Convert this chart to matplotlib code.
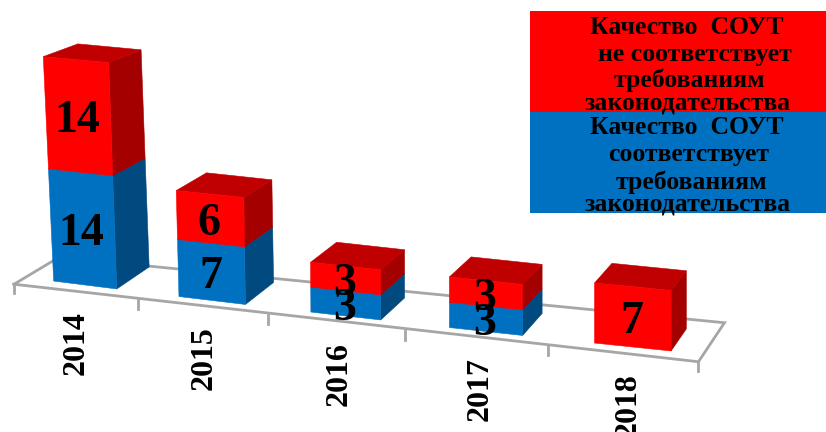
import matplotlib
matplotlib.use("Agg")
import matplotlib.pyplot as plt

years = ["2014", "2015", "2016", "2017", "2018"]
compliant = [14, 7, 3, 3, 0]
non_compliant = [14, 6, 3, 3, 7]
legend_red = ["Качество  СОУТ", "не соответствует", "требованиям", "законодательства"]
legend_blue = ["Качество  СОУТ", "соответствует", "требованиям", "законодательства"]

FONT = "Liberation Serif"
BAR_HALF = 0.255
RED = ("#ff0000", "#a50000", "#c00000")
BLUE = ("#0070c0", "#004a80", "#00609f")
GRID = "#a6a6a6"


def project(u, v=0.0, d=0.0):
    """Oblique projection: category position u, value v, depth d -> pixel."""
    lean = min(0.0, -0.33 + 0.16 * u)
    x = 85 + 123.7 * u + 3.3 * u * u + lean * v
    y = 285 + 15.5 * u - (8.05 + 0.14 * u) * v
    x += d * (33.5 - 4.3 * u)
    y += d * (-22 + 0.33 * v)
    return x, y


def face(ax, pts, color, z):
    xs, ys = zip(*pts)
    ax.fill(xs, ys, color=color, lw=0.4, zorder=z)


def segment(ax, i, v0, v1, colors, z):
    if v1 <= v0:
        return
    l, r = i - BAR_HALF, i + BAR_HALF
    face(ax, [project(r, v0), project(r, v1), project(r, v1, 1), project(r, v0, 1)], colors[1], z)
    face(ax, [project(l, v1), project(r, v1), project(r, v1, 1), project(l, v1, 1)], colors[2], z)
    face(ax, [project(l, v0), project(r, v0), project(r, v1), project(l, v1)], colors[0], z + 0.1)


fig = plt.figure(figsize=(8.26, 4.32), dpi=100)
ax = fig.add_axes([0, 0, 1, 1])
ax.set_xlim(0, 826)
ax.set_ylim(432, 0)
ax.axis("off")


def front(u):
    x, y = project(u)
    return x - 10, y + 7


# floor frame and ticks
n = len(years)
fl, fr = front(-0.5), front(n - 0.5)
bl, br = (fl[0] + 45, fl[1] - 27), (fr[0] + 26, fr[1] - 39)
ax.plot([fl[0], fr[0], br[0], bl[0], fl[0]], [fl[1], fr[1], br[1], bl[1], fl[1]],
        color=GRID, lw=2.0, zorder=1, solid_joinstyle="miter")
for k in range(n + 1):
    tx, ty = front(k - 0.5)
    ax.plot([tx, tx], [ty, ty + 9], color=GRID, lw=2.0, zorder=1)

# stacked bars, drawn left to right
for i, (a, b) in enumerate(zip(compliant, non_compliant)):
    base_z = 2 + i
    segment(ax, i, 0, a, BLUE, base_z)
    segment(ax, i, a, a + b, RED, base_z + 0.2)

# value labels
for i, (a, b) in enumerate(zip(compliant, non_compliant)):
    for val, mid in ((a, a / 2), (b, a + b / 2)):
        if val:
            x, y = project(i, mid)
            ax.text(x - 1, y + 5.5, str(val), family=FONT, weight="bold", size=33,
                    ha="center", va="center", color="black", zorder=20)

# category labels
for i, label in enumerate(years):
    x, y = project(i)
    ax.text(x - 9 + 1.2 * i, y + 58, label, family=FONT, weight="bold", size=23,
            rotation=90, ha="center", va="center", color="black", zorder=20)

# legend block
ax.fill([530, 826, 826, 530], [11, 11, 112, 112], color=RED[0], lw=0, zorder=1)
ax.fill([530, 826, 826, 530], [112, 112, 213, 213], color=BLUE[0], lw=0, zorder=1)
for lines, ypos, xpos in (
    (legend_red, (27, 54, 80, 103), (687, 695, 690, 688)),
    (legend_blue, (128, 155, 182, 204), (687, 689, 692, 688)),
):
    for s, yy, xx in zip(lines, ypos, xpos):
        ax.text(xx, yy, s, family=FONT, weight="bold", size=18.5,
                ha="center", va="center", color="black", zorder=20)

fig.savefig("out.png", dpi=100)
